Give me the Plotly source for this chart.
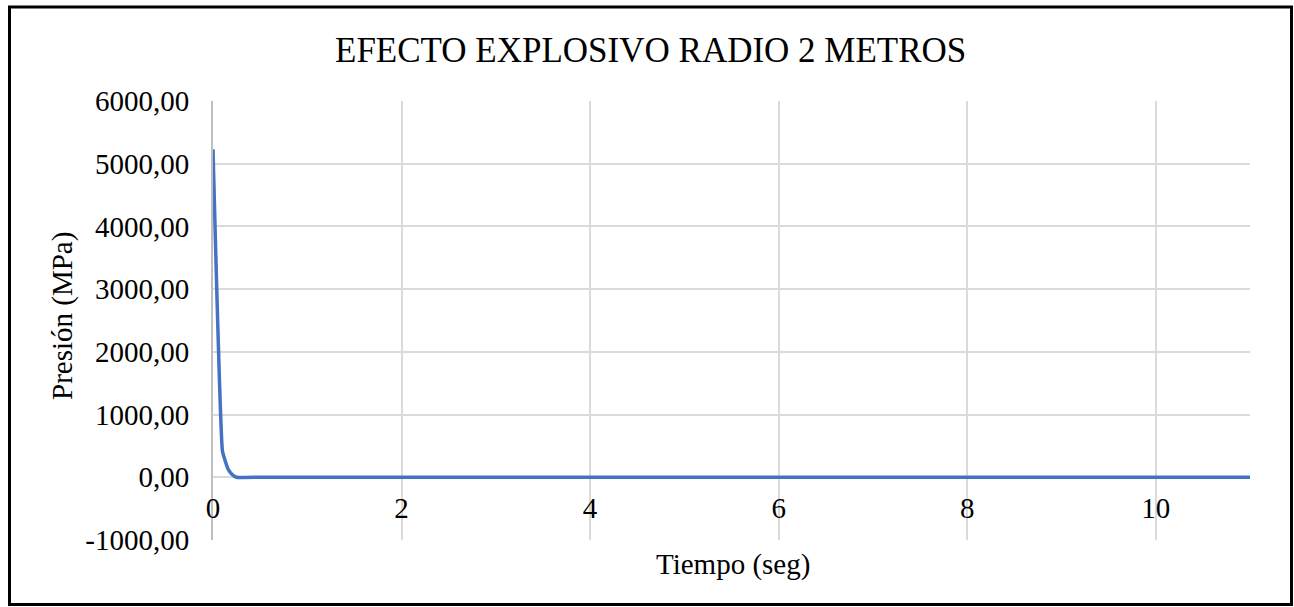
import plotly.graph_objects as go

# Pressure decay after the blast, radius 2 m
tiempo = [0.0, 0.1, 0.13, 0.16, 0.2, 0.25, 0.5, 1, 2, 3, 4, 5, 6, 7, 8, 9, 10, 11]
presion = [5230.0, 420.0, 260.0, 130.0, 50.0, 0.0, 0.0, 0.0, 0.0, 0.0, 0.0, 0.0, 0.0, 0.0, 0.0, 0.0, 0.0, 0.0]

y_ticks = [-1000, 0, 1000, 2000, 3000, 4000, 5000, 6000]
y_tick_text = ["-1000,00", "0,00", "1000,00", "2000,00", "3000,00", "4000,00", "5000,00", "6000,00"]
x_ticks = [0, 2, 4, 6, 8, 10]

FONT = "Liberation Serif, Times New Roman, serif"
FS = 29

fig = go.Figure()
fig.add_trace(go.Scatter(
    x=tiempo, y=presion, mode="lines",
    line=dict(color="#4472C4", width=3.5, shape="spline", smoothing=0.4),
    showlegend=False, hoverinfo="x+y",
))

L, R, T, B = 213, 44, 101, 67
W, H = 1294, 607
pw, ph = W - L - R, H - T - B

def px_to_paper_x(px):
    return (px - L) / pw

def px_to_paper_y(py):
    return (H - B - py) / ph

ymin, ymax = -1000, 6000
zero_pos = (0 - ymin) / (ymax - ymin)

fig.update_layout(
    width=W, height=H,
    margin=dict(l=L, r=R, t=T, b=B, autoexpand=False),
    paper_bgcolor="white", plot_bgcolor="white",
    font=dict(family=FONT, size=FS, color="#000000"),
    xaxis=dict(
        range=[0, 11], tickvals=x_ticks, ticktext=[str(v) for v in x_ticks],
        showgrid=True, gridcolor="#DADADA", gridwidth=2,
        zeroline=False, showline=False, ticks="",
        anchor="free", position=zero_pos, ticklabelstandoff=11,
        tickfont=dict(family=FONT, size=FS),
    ),
    yaxis=dict(
        range=[ymin, ymax], tickvals=y_ticks, ticktext=y_tick_text,
        showgrid=True, gridcolor="#DADADA", gridwidth=2,
        zeroline=False, showline=True, linecolor="#BFBFBF", linewidth=2,
        ticks="", ticklabelstandoff=16,
        tickfont=dict(family=FONT, size=FS),
    ),
    annotations=[
        dict(text="EFECTO EXPLOSIVO RADIO 2 METROS", xref="paper", yref="paper",
             x=px_to_paper_x(650), y=px_to_paper_y(50), showarrow=False,
             xanchor="center", yanchor="middle", font=dict(family=FONT, size=35)),
        dict(text="Tiempo (seg)", xref="paper", yref="paper",
             x=px_to_paper_x(733), y=px_to_paper_y(564), showarrow=False,
             xanchor="center", yanchor="middle", font=dict(family=FONT, size=FS)),
        dict(text="Presión (MPa)", xref="paper", yref="paper", textangle=-90,
             x=px_to_paper_x(62), y=px_to_paper_y(316), showarrow=False,
             xanchor="center", yanchor="middle", font=dict(family=FONT, size=FS)),
    ],
    shapes=[
        dict(type="rect", xref="paper", yref="paper",
             x0=px_to_paper_x(9.5), x1=px_to_paper_x(1291.5),
             y0=px_to_paper_y(604.5), y1=px_to_paper_y(7),
             line=dict(color="#000000", width=3), fillcolor="rgba(0,0,0,0)", layer="below"),
    ],
)

fig.write_html("out.html")
